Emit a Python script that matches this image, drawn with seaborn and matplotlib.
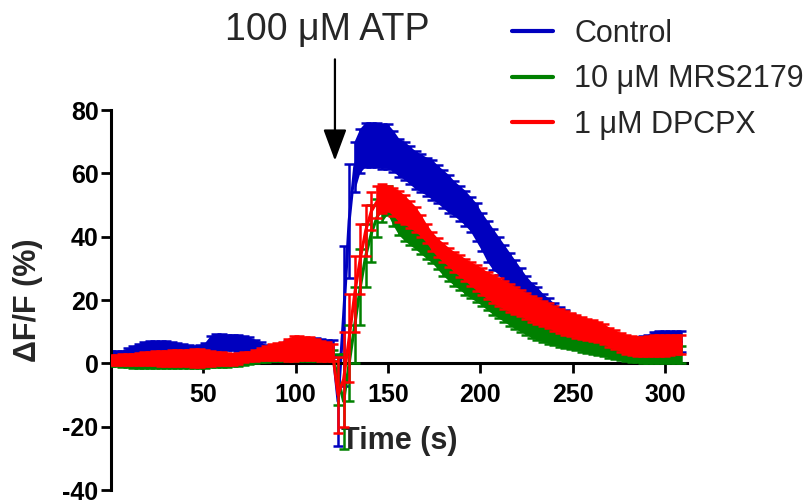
import numpy as np
import pandas as pd
import matplotlib
matplotlib.use("Agg")
import matplotlib.pyplot as plt
from matplotlib.lines import Line2D
import seaborn as sns

# ---------------- data ----------------
time = list(range(0, 310, 3))

control_mean = [1.8, 1.9, 2.0, 2.5, 3.0, 3.5, 4.3, 4.5, 4.5, 4.5,
                4.5, 4.3, 4.0, 3.7, 3.4, 3.3, 3.4, 3.8, 5.6, 6.4,
                6.6, 6.6, 6.6, 6.5, 6.3, 5.8, 5.2, 4.4, 3.6, 3.2,
                3.5, 4.0, 4.5, 5.0, 5.2, 5.4, 5.4, 5.4, 5.2, 5.0,
                5.0,
                -12, 15, 45, 62, 67, 69, 69, 69, 68.5, 68.5, 67,
                65, 64, 62.5, 61, 60, 59, 58, 56.5, 55, 53.5,
                52, 50.5, 49, 47, 44.5, 41.5, 38.5, 36, 34, 31.5,
                29, 26.5, 24.5, 22, 20, 18.5, 17, 15.5, 14, 13,
                12, 11, 10, 9.2, 8.5, 7.8, 7.3, 6.8, 6.3, 5.8,
                5.3, 5.0, 5.0, 5.0, 5.0, 5.5, 6.5, 6.8, 6.8, 6.8,
                6.8, 6.8]
control_sem = [2.0, 2.0, 2.0, 2.2, 2.5, 2.5, 2.5, 2.5, 2.5, 2.5,
               2.5, 2.4, 2.3, 2.3, 2.3, 2.3, 2.4, 2.6, 3.0, 2.8,
               2.6, 2.5, 2.5, 2.5, 2.4, 2.4, 2.3, 2.2, 2.2, 2.2,
               2.2, 2.5, 2.7, 2.8, 2.7, 2.6, 2.5, 2.5, 2.5, 2.5,
               2.5,
               14, 22, 18, 8, 7, 7, 7, 7, 7, 7, 6.5,
               6, 6, 6, 6, 6, 6, 6.3, 6, 6, 6,
               5.5, 5.5, 5.5, 5.5, 6, 6, 6.5, 6.5, 6, 6,
               6, 6, 5.5, 5.5, 5.5, 5.5, 5, 5, 5, 4.8,
               4.8, 4.5, 4.5, 4.3, 4.2, 4.2, 4.2, 4, 3.8, 3.5,
               3.3, 3.3, 3.3, 3.3, 3.5, 3.5, 3.5, 3.5, 3.3, 3.3,
               3.3, 3.3]

mrs_mean = [0.8, 0.7, 0.6, 0.5, 0.4, 0.3, 0.3, 0.3, 0.3, 0.3,
            0.3, 0.4, 0.4, 0.5, 0.5, 0.5, 0.6, 0.6, 0.7, 0.8,
            0.9, 0.9, 1.0, 1.2, 1.4, 1.6, 1.8, 2.0, 2.2, 2.3,
            2.4, 2.5, 2.5, 2.5, 2.6, 2.6, 2.6, 2.6, 2.6, 2.5,
            2.5,
            -5, -12, 0, 12, 24, 34, 41, 46, 49.5, 51.5, 48,
            45, 43, 41.5, 40, 38.5, 37, 35.5, 33.5, 31.5, 29.8,
            28.3, 27, 25.5, 24.3, 23.2, 22, 20.5, 19.2, 18, 16.8,
            15.6, 14.5, 13.5, 12.5, 11.5, 10.8, 10.2, 9.6, 9, 8.5,
            8, 7.6, 7.2, 6.8, 6.4, 6, 5.6, 5.2, 4.8, 4.4,
            4, 3.7, 3.4, 3.2, 3, 2.9, 2.8, 2.8, 2.8, 2.8,
            2.8, 2.8]
mrs_sem = [1.5, 1.6, 1.7, 1.8, 1.9, 1.9, 1.9, 1.9, 1.9, 1.9,
           1.9, 1.9, 1.9, 1.9, 1.9, 2.0, 2.0, 2.0, 2.0, 2.0,
           2.0, 2.0, 1.9, 1.9, 1.8, 1.8, 1.7, 1.7, 1.7, 1.7,
           1.7, 1.7, 1.7, 1.8, 1.8, 1.8, 1.8, 1.8, 1.8, 1.8,
           1.8,
           8, 15, 12, 12, 12, 10, 9, 6, 5, 4.5, 4.5,
           4.5, 4.3, 4.2, 4, 4, 4, 3.8, 3.8, 3.8, 3.8,
           3.8, 3.8, 3.8, 3.8, 3.8, 3.8, 3.8, 3.8, 3.8, 3.7,
           3.7, 3.6, 3.6, 3.5, 3.5, 3.5, 3.4, 3.4, 3.3, 3.3,
           3.2, 3.2, 3.1, 3.1, 3, 3, 3, 3, 3, 3,
           3, 3, 2.9, 2.8, 2.8, 2.8, 2.8, 2.8, 2.8, 2.8,
           2.8, 2.8]

dpcpx_mean = [1.0, 1.1, 1.2, 1.2, 1.3, 1.4, 1.5, 1.6, 1.6, 1.6,
              1.6, 1.6, 1.6, 1.6, 1.7, 1.7, 1.7, 1.7, 1.6, 1.6,
              1.5, 1.4, 1.3, 1.6, 1.9, 2.2, 2.5, 2.9, 3.2, 3.5,
              3.7, 3.9, 4.3, 4.6, 4.7, 4.7, 4.6, 4.4, 4.0, 3.6,
              3.3,
              -10, -5, 8, 22, 33, 42, 48, 51, 52, 52, 51,
              49.6, 48.5, 47, 45.5, 43.5, 41, 38.5, 36.5, 35, 33.5,
              32, 30.8, 29.5, 28.2, 27, 25.8, 24.5, 23.5, 22.5, 21.6,
              20.7, 19.8, 19, 18.1, 17.3, 16.5, 15.7, 15, 14.2, 13.5,
              12.8, 12.2, 11.6, 11.1, 10.7, 10.3, 10, 9.2, 8.2, 7.4,
              6.7, 6, 5.6, 5.4, 5.4, 5.5, 5.5, 5.5, 5.5, 5.7,
              5.9, 6]
dpcpx_sem = [1.5, 1.6, 1.6, 1.7, 1.8, 1.9, 2.0, 2.1, 2.2, 2.3,
             2.4, 2.5, 2.5, 2.5, 2.6, 2.7, 2.7, 2.5, 2.3, 2.1,
             2.0, 1.9, 1.8, 1.7, 1.6, 1.5, 1.8, 2.0, 2.2, 2.5,
             2.7, 2.9, 3.5, 3.9, 3.8, 3.7, 3.6, 3.4, 3.2, 3.0,
             2.7,
             12, 15, 14, 12, 11, 8, 6, 5, 4.5, 4, 4.5,
             4.9, 4.6, 4.3, 4, 3.5, 3, 3, 3, 3, 3,
             3.2, 3.4, 3.5, 3.8, 4, 4.2, 4.3, 4.4, 4.5, 4.5,
             4.5, 4.3, 4.2, 4.1, 4.1, 4, 4, 3.9, 3.9, 3.8,
             3.8, 3.7, 3.6, 3.5, 3.4, 3.3, 3.2, 3.2, 3.1, 3,
             3, 3, 3, 3, 3, 3.2, 3.3, 3.3, 3.3, 3.2,
             3.1, 3]

groups = ["Control", "10 \u03bcM MRS2179", "1 \u03bcM DPCPX"]
x_ticks = [50, 100, 150, 200, 250, 300]
y_ticks = [-40, -20, 0, 20, 40, 60, 80]

# ---------------- style ----------------
sns.set_theme(style="ticks")
plt.rcParams["font.family"] = ["Liberation Sans", "DejaVu Sans"]
plt.rcParams["axes.unicode_minus"] = False

colors = {groups[0]: "#0000BF", groups[1]: "#008000", groups[2]: "#FF0000"}
band_start = {groups[0]: 132, groups[1]: 147, groups[2]: 144}

frames = []
for g, m, s in [(groups[0], control_mean, control_sem),
                (groups[1], mrs_mean, mrs_sem),
                (groups[2], dpcpx_mean, dpcpx_sem)]:
    frames.append(pd.DataFrame({"time": time, "mean": m, "sem": s, "group": g}))
df = pd.concat(frames, ignore_index=True)

fig = plt.figure(figsize=(8.08, 5.04), dpi=100)
ax = fig.add_axes([111 / 808, 14 / 504, 576 / 808, 380 / 504])

for i, g in enumerate(groups):
    sub = df[df["group"] == g]
    c = colors[g]
    z = 2 + i
    tt = sub["time"].to_numpy()
    lo = (sub["mean"] - sub["sem"]).to_numpy()
    hi = (sub["mean"] + sub["sem"]).to_numpy()
    mask = (tt <= 120) | (tt >= band_start[g])
    ax.fill_between(tt, lo, hi, where=mask, color=c, lw=0, zorder=z)
    ax.errorbar(tt, sub["mean"], yerr=sub["sem"], fmt="none", ecolor=c,
                elinewidth=1.8, capsize=3.5, capthick=1.8, zorder=z + 0.1)
    sns.lineplot(data=sub, x="time", y="mean", color=c, lw=2.2, ax=ax,
                 zorder=z + 0.2, legend=False, errorbar=None)

ax.set_xlim(0, 312)
ax.set_ylim(-40, 80)
ax.set_xticks(x_ticks)
ax.set_yticks(y_ticks)
ax.set_xticklabels([str(v) for v in x_ticks])
ax.set_yticklabels([str(v) for v in y_ticks])

for sp in ["top", "right"]:
    ax.spines[sp].set_visible(False)
ax.spines["bottom"].set_position(("data", 0))
ax.spines["left"].set_linewidth(2.2)
ax.spines["bottom"].set_linewidth(2.2)
ax.spines["left"].set_color("black")
ax.spines["bottom"].set_color("black")

ax.tick_params(axis="both", direction="out", length=7, width=2.0,
               colors="black", labelsize=18)
ax.tick_params(axis="y", pad=2)
ax.tick_params(axis="x", pad=7)
for lab in ax.get_xticklabels() + ax.get_yticklabels():
    lab.set_fontweight("bold")

ax.set_xlabel("Time (s)", fontsize=22, fontweight="bold")
ax.set_ylabel("\u0394F/F (%)", fontsize=22, fontweight="bold")
ax.xaxis.set_label_coords(0.5, 0.168)
ax.yaxis.set_label_coords(-0.118, 0.5)

# ATP annotation
ax.annotate("", xy=(121.3, 64), xytext=(121.3, 96),
            arrowprops=dict(arrowstyle="-|>,head_width=0.36,head_length=0.97",
                            mutation_scale=20, lw=1.6, color="black",
                            shrinkA=0, shrinkB=0),
            annotation_clip=False)
ax.text(117, 102.0, "100 \u03bcM ATP", ha="center", va="baseline",
        fontsize=27, clip_on=False)

handles = [Line2D([], [], color=colors[g], lw=3) for g in groups]
leg = ax.legend(handles, groups, loc="upper left",
                bbox_to_anchor=(512 / 808, 0.962), bbox_transform=fig.transFigure,
                frameon=False, fontsize=22, handlelength=1.34, handletextpad=0.7,
                labelspacing=0.5, borderpad=0, borderaxespad=0)

fig.savefig("out.png", dpi=100)
